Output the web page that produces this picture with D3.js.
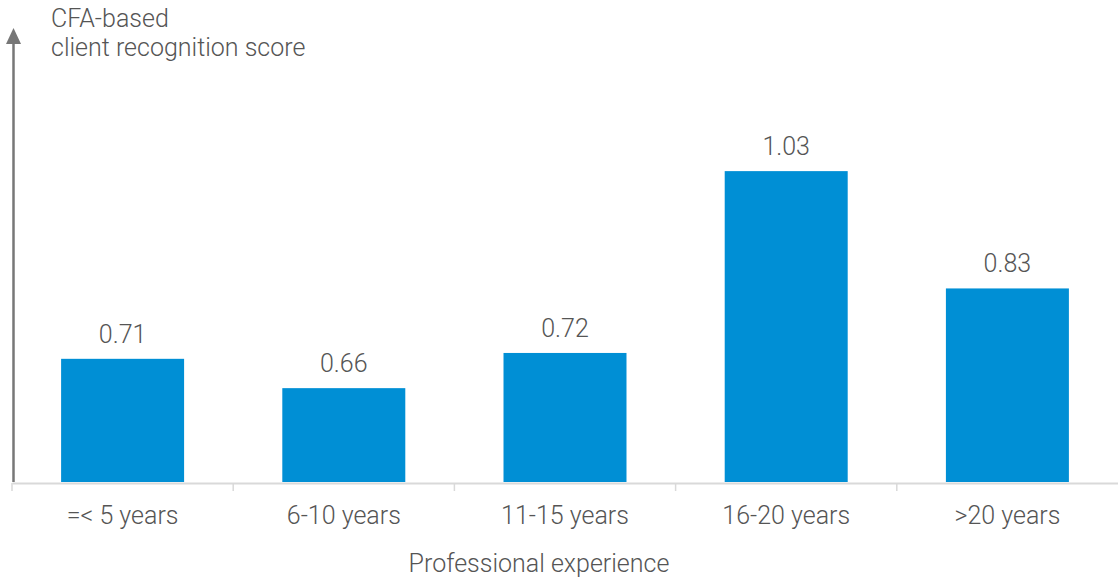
<!DOCTYPE html>
<html>
<head>
<meta charset="utf-8">
<script src="https://cdn.jsdelivr.net/npm/d3@7"></script>
<style>
  html, body { margin: 0; padding: 0; background: #fff; }
  svg text { font-family: Roboto, "Noto Sans", sans-serif; font-weight: 300; fill: #555; }
</style>
</head>
<body>
<svg id="chart" width="1118" height="577"></svg>
<script>
const categories = ["=< 5 years", "6-10 years", "11-15 years", "16-20 years", ">20 years"];
const values = [0.71, 0.66, 0.72, 1.03, 0.83];
const valueLabels = ["0.71", "0.66", "0.72", "1.03", "0.83"];
const yTitle = ["CFA-based", "client recognition score"];
const xTitle = "Professional experience";

const FS = 25;
const svg = d3.select("#chart");
const x0 = 12, x1 = 1118, yBase = 482;

const x = d3.scaleBand().domain(categories).range([x0, x1]).paddingInner(0.444).paddingOuter(0.222);
const y = d3.scaleLinear().domain([0.5, 1.274]).range([yBase, 28]);

// bars
svg.append("g").selectAll("rect").data(values).join("rect")
  .attr("x", (d, i) => x(categories[i]))
  .attr("width", x.bandwidth())
  .attr("y", d => y(d))
  .attr("height", d => y(0.5) - y(d))
  .attr("fill", "#008fd5");

// value labels
svg.append("g").selectAll("text").data(values).join("text")
  .attr("x", (d, i) => x(categories[i]) + x.bandwidth() / 2)
  .attr("y", d => y(d) - 16)
  .attr("text-anchor", "middle")
  .attr("font-size", FS)
  .text((d, i) => valueLabels[i]);

// x axis
const xBand = d3.scaleBand().domain(categories).range([x0, x1]);
const xAxis = d3.axisBottom(xBand).tickSize(0).tickPadding(0);
const gx = svg.append("g").attr("transform", `translate(0,${yBase + 1})`).call(xAxis);
gx.select(".domain").attr("stroke", "#d9d9d9").attr("stroke-width", 2);
gx.selectAll(".tick line").remove();
gx.selectAll(".tick text")
  .attr("font-size", FS).attr("dy", null).attr("y", 41)
  .attr("fill", "#555")
  .style("font-family", 'Roboto, "Noto Sans", sans-serif')
  .style("font-weight", 300);
// tick separators at band edges
svg.append("g").selectAll("line").data(categories).join("line")
  .attr("x1", d => xBand(d)).attr("x2", d => xBand(d))
  .attr("y1", yBase + 1).attr("y2", yBase + 9)
  .attr("stroke", "#d9d9d9").attr("stroke-width", 1.5);

// y axis arrow
svg.append("line")
  .attr("x1", 13.5).attr("x2", 13.5)
  .attr("y1", yBase).attr("y2", 40)
  .attr("stroke", "#777").attr("stroke-width", 2.5);
svg.append("path")
  .attr("d", `M13.5,28 L21,44 L6,44 Z`)
  .attr("fill", "#777");

// y title
svg.append("text").attr("x", 51).attr("y", 27).attr("font-size", FS).text(yTitle[0]);
svg.append("text").attr("x", 51).attr("y", 56).attr("font-size", FS).text(yTitle[1]);

// x title
svg.append("text").attr("x", 539).attr("y", 572).attr("text-anchor", "middle")
  .attr("font-size", FS).text(xTitle);
</script>
</body>
</html>
